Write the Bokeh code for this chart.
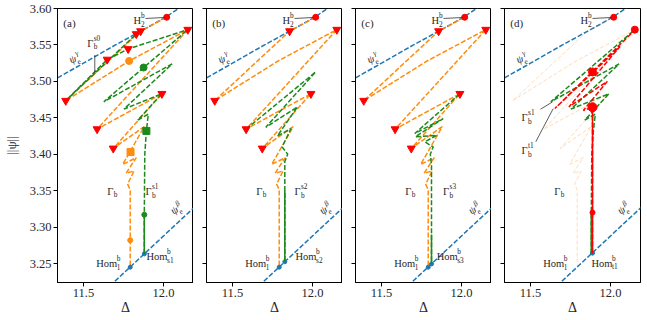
import math
from bokeh.plotting import figure
from bokeh.models import Range1d, Label, FixedTicker, CustomJSTickFormatter, PrintfTickFormatter
from bokeh.layouts import row
from bokeh.embed import file_html
from bokeh.resources import INLINE

# ---------------- axes ----------------
X_TICKS = [11.5, 12.0]
Y_TICKS = [3.25, 3.30, 3.35, 3.40, 3.45, 3.50, 3.55, 3.60]
X_LIMITS = [11.3375, 12.1875]
Y_LIMITS = [3.224, 3.600]

# ---------------- boundary curves ----------------
PSI_GAMMA_X = [11.30, 11.50, 11.70, 11.90, 12.02, 12.10, 12.25]
PSI_GAMMA_Y = [3.500, 3.525, 3.550, 3.574, 3.589, 3.601, 3.625]
PSI_BETA_X = [11.60, 12.25]
PSI_BETA_Y = [3.206, 3.339]

# ---------------- Gamma_b (orange snake) ----------------
GB_X = [12.020, 11.857, 11.389, 11.785, 12.152, 11.585, 11.990, 11.686, 11.880,
        11.745, 11.830, 11.766, 11.816, 11.776, 11.792, 11.792]
GB_Y = [3.588, 3.569, 3.4735, 3.528, 3.571, 3.4345, 3.483, 3.408, 3.438,
        3.386, 3.3954, 3.374, 3.377, 3.359, 3.351, 3.245]

# ---------------- branches ----------------
S0_X = [11.857, 11.830, 11.389, 11.648, 11.779, 12.152]
S0_Y = [3.569, 3.565, 3.4735, 3.530, 3.5445, 3.571]
S1_X = [11.880, 11.880, 11.883, 11.893, 11.905, 11.840, 11.990, 11.753, 12.054, 11.627, 12.152]
S1_Y = [3.2633, 3.317, 3.400, 3.432, 3.455, 3.447, 3.483, 3.462, 3.524, 3.472, 3.571]
S2_X = [11.585, 12.020, 11.708, 11.906, 11.780, 11.865, 11.810, 11.845, 11.827, 11.827, 11.827]
S2_Y = [3.4345, 3.513, 3.437, 3.465, 3.425, 3.435, 3.410, 3.400, 3.390, 3.350, 3.2524]
S3_X = [11.990, 11.708, 11.886, 11.712, 11.845, 11.771, 11.823, 11.805, 11.8125, 11.8125, 11.8125]
S3_Y = [3.483, 3.4285, 3.449, 3.424, 3.426, 3.417, 3.410, 3.400, 3.385, 3.290, 3.2495]
T1_X = [11.8875, 11.8875, 11.830, 11.980, 11.740, 12.060, 11.652, 12.152]
T1_Y = [3.2643, 3.4645, 3.460, 3.500, 3.465, 3.548, 3.4627, 3.5705]

# ---------------- special points ----------------
H2_X = [12.020]
H2_Y = [3.588]
TRI_A_X = [11.857, 11.830, 11.779, 11.648, 11.389, 11.585, 11.686, 12.152, 11.990]
TRI_A_Y = [3.569, 3.565, 3.5445, 3.530, 3.4735, 3.4345, 3.408, 3.571, 3.483]
TRI_BC_X = [11.857, 11.389, 11.585, 11.686, 12.152, 11.990]
TRI_BC_Y = [3.569, 3.4735, 3.4345, 3.408, 3.571, 3.483]
ORANGE_CIRC_X = [11.785, 11.792]
ORANGE_CIRC_Y = [3.528, 3.282]
ORANGE_CIRC_S = [7, 5]
ORANGE_SQ_X = [11.794]
ORANGE_SQ_Y = [3.403]
GREEN_CIRC_X = [11.8755, 11.880]
GREEN_CIRC_Y = [3.519, 3.317]
GREEN_CIRC_S = [7, 5]
GREEN_SQ_X = [11.893]
GREEN_SQ_Y = [3.432]
RED_D_X = [12.020, 12.152, 11.8875, 11.8875, 11.8875]
RED_D_Y = [3.588, 3.571, 3.513, 3.4645, 3.320]
RED_D_S = [6, 7, 8, 9, 5]
HOM_A_X = [11.792, 11.880]
HOM_A_Y = [3.245, 3.2633]
HOM_B_X = [11.792, 11.827]
HOM_B_Y = [3.245, 3.2524]
HOM_C_X = [11.792, 11.8125]
HOM_C_Y = [3.245, 3.2495]
HOM_D_X = [11.8875]
HOM_D_Y = [3.2643]

BLUE = "#1f77b4"
ORANGE = "#ff8c0e"
GREEN = "#1a8a1a"
RED = "#ff0000"
TXT = "#262626"
FONT = "Liberation Serif"
DASH = "5 2"


def make_fig(first, last):
    p = figure(frame_width=136, frame_height=274,
               x_range=Range1d(*X_LIMITS), y_range=Range1d(*Y_LIMITS),
               output_backend="svg", toolbar_location=None,
               min_border_left=52 if first else 13, min_border_right=11 if last else 0,
               min_border_top=8, min_border_bottom=38)
    p.xgrid.visible = False
    p.ygrid.visible = False
    p.outline_line_color = "black"
    p.outline_line_width = 1
    p.outline_line_alpha = 1
    p.xaxis.ticker = FixedTicker(ticks=X_TICKS)
    p.yaxis.ticker = FixedTicker(ticks=Y_TICKS)
    p.xaxis.formatter = PrintfTickFormatter(format="%.1f")
    for ax in (p.xaxis[0], p.yaxis[0]):
        ax.major_tick_out = 4
        ax.major_tick_in = 0
        ax.minor_tick_out = 0
        ax.minor_tick_in = 0
        ax.axis_line_color = "black"
        ax.major_tick_line_color = "black"
        ax.major_label_text_font = FONT
        ax.major_label_text_font_size = "12.5px"
        ax.major_label_text_color = TXT
        ax.major_label_standoff = 2
        ax.axis_label_text_font = FONT
        ax.axis_label_text_font_style = "normal"
        ax.axis_label_text_color = TXT
    p.xaxis.axis_label = "Δ"
    p.xaxis.axis_label_text_font_size = "14px"
    p.xaxis.axis_label_standoff = 0
    if first:
        p.yaxis.formatter = PrintfTickFormatter(format="%.2f")
        p.yaxis.axis_label = "||ψ||"
        p.yaxis.axis_label_text_font_size = "13px"
        p.yaxis.axis_label_standoff = 8
    else:
        p.yaxis.formatter = CustomJSTickFormatter(code="return ''")
        p.yaxis.major_label_standoff = 0
    return p


def tex(p, x, y, base, sub=None, sup=None, fs=10.5, w=6.0, ang=0.0, col=TXT):
    a = math.radians(ang)

    def put(t, dx, dy, f):
        ox = dx * math.cos(a) - dy * math.sin(a)
        oy = dx * math.sin(a) + dy * math.cos(a)
        p.add_layout(Label(x=x, y=y, x_offset=ox, y_offset=oy, text=t,
                           text_font=FONT, text_font_size=f"{f}px", text_color=col,
                           text_align="left", text_baseline="middle", angle=a))
    put(base, 0, 0, fs)
    if sub:
        put(sub, w + 0.5, -0.33 * fs, 0.7 * fs)
    if sup:
        put(sup, w + 0.5, 0.47 * fs, 0.7 * fs)


def leader(p, xs, ys):
    p.line(xs, ys, line_color="#333333", line_width=0.8)


def common(p, letter, hom_x, hom_y, faint=False):
    p.line(PSI_GAMMA_X, PSI_GAMMA_Y, line_color=BLUE, line_width=1.5, line_dash=DASH)
    p.line(PSI_BETA_X, PSI_BETA_Y, line_color=BLUE, line_width=1.5, line_dash=DASH)
    if faint:
        p.line(GB_X, GB_Y, line_color=ORANGE, line_width=1.0, line_alpha=0.3, line_dash="4 2")
    else:
        p.line(GB_X, GB_Y, line_color=ORANGE, line_width=1.5, line_dash=DASH)
    p.scatter(hom_x, hom_y, marker="circle", size=4, color=BLUE)
    tex(p, 11.374, 3.5795, letter, fs=11)
    tex(p, 11.812, 3.5835, "H", sub="2", sup="b", w=7.2)
    tex(p, 11.413, 3.5297, "ψ", sub="e", sup="γ", w=6.5, ang=14)
    tex(p, 12.050, 3.3217, "ψ", sub="e", sup="β", w=6.5, ang=25)
    tex(p, 11.648, 3.349, "Γ", sub="b", w=6.0)
    tex(p, 11.579, 3.2501, "Hom", sub="1", sup="b", w=20.0)


def branch(p, xs, ys, color, solid_slice):
    p.line(xs, ys, line_color=color, line_width=1.5, line_dash=DASH)
    p.line(xs[solid_slice], ys[solid_slice], line_color=color, line_width=1.5)


# ---------------- panel (a) ----------------
pa = make_fig(True, False)
common(pa, "(a)", HOM_A_X, HOM_A_Y)
branch(pa, S0_X, S0_Y, GREEN, slice(0, 0))
branch(pa, S1_X, S1_Y, GREEN, slice(0, 2))
pa.scatter(ORANGE_CIRC_X, ORANGE_CIRC_Y, marker="circle", size=ORANGE_CIRC_S, color=ORANGE)
pa.scatter(ORANGE_SQ_X, ORANGE_SQ_Y, marker="square", size=7, color=ORANGE)
pa.scatter(GREEN_CIRC_X, GREEN_CIRC_Y, marker="circle", size=GREEN_CIRC_S, color=GREEN)
pa.scatter(GREEN_SQ_X, GREEN_SQ_Y, marker="square", size=7, color=GREEN)
pa.scatter(TRI_A_X, TRI_A_Y, marker="inverted_triangle", size=8, color=RED)
pa.scatter(H2_X, H2_Y, marker="circle", size=6, color=RED)
leader(pa, [11.8875, 12.008], [3.5863, 3.5877])
leader(pa, [11.5706, 11.5706], [3.5363, 3.5104])
tex(pa, 11.523, 3.5525, "Γ", sub="b", sup="s0", w=6.0)
tex(pa, 11.8875, 3.3486, "Γ", sub="b", sup="s1", w=6.0)
tex(pa, 11.894, 3.2596, "Hom", sub="s1", sup="b", w=20.0)

# ---------------- panel (b) ----------------
pb = make_fig(False, False)
common(pb, "(b)", HOM_B_X, HOM_B_Y)
branch(pb, S2_X, S2_Y, GREEN, slice(-2, None))
pb.scatter(TRI_BC_X, TRI_BC_Y, marker="inverted_triangle", size=8, color=RED)
pb.scatter(H2_X, H2_Y, marker="circle", size=6, color=RED)
leader(pb, [11.8875, 12.008], [3.5863, 3.5877])
tex(pb, 11.8875, 3.3486, "Γ", sub="b", sup="s2", w=6.0)
tex(pb, 11.894, 3.2596, "Hom", sub="s2", sup="b", w=20.0)

# ---------------- panel (c) ----------------
pc = make_fig(False, False)
common(pc, "(c)", HOM_C_X, HOM_C_Y)
branch(pc, S3_X, S3_Y, GREEN, slice(-2, None))
pc.scatter(TRI_BC_X, TRI_BC_Y, marker="inverted_triangle", size=8, color=RED)
pc.scatter(H2_X, H2_Y, marker="circle", size=6, color=RED)
leader(pc, [11.8875, 12.008], [3.5863, 3.5877])
tex(pc, 11.885, 3.3486, "Γ", sub="b", sup="s3", w=6.0)
tex(pc, 11.845, 3.2596, "Hom", sub="s3", sup="b", w=20.0)

# ---------------- panel (d) ----------------
pd = make_fig(False, True)
common(pd, "(d)", HOM_D_X, HOM_D_Y, faint=True)
branch(pd, S1_X, S1_Y, GREEN, slice(0, 2))
branch(pd, T1_X, T1_Y, RED, slice(0, 2))
pd.scatter(RED_D_X, RED_D_Y, marker="circle", size=RED_D_S, color=RED)
leader(pd, [11.8875, 12.008], [3.5863, 3.5877])
leader(pd, [11.5625, 11.6375], [3.4618, 3.4718])
leader(pd, [11.5332, 11.6419], [3.4172, 3.4626])
tex(pd, 11.444, 3.450, "Γ", sub="b", sup="s1", w=6.0)
tex(pd, 11.444, 3.4049, "Γ", sub="b", sup="t1", w=6.0)
tex(pd, 11.881, 3.2501, "Hom", sub="t1", sup="b", w=20.0)

layout = row(pa, pb, pc, pd)
open("out.html", "w").write(file_html(layout, INLINE))
